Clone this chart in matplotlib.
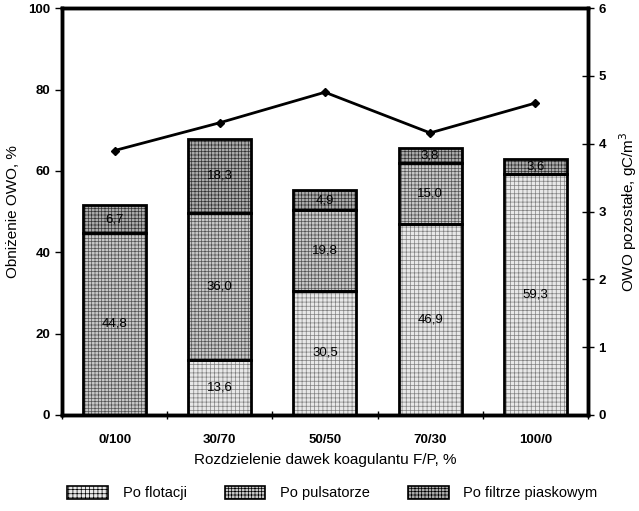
import numpy as np
import matplotlib
matplotlib.use('Agg')
import matplotlib.pyplot as plt
from matplotlib.patches import Patch

plt.rcParams['font.family'] = ['Liberation Sans', 'DejaVu Sans']
plt.rcParams['hatch.linewidth'] = 0.5

# dane
kategorie = ['0/100', '30/70', '50/50', '70/30', '100/0']
flotacja = [0.0, 13.6, 30.5, 46.9, 59.3]
pulsator = [44.8, 36.0, 19.8, 15.0, 0.0]
filtr = [6.7, 18.3, 4.9, 3.8, 3.6]
owo_pozostale = [3.9, 4.31, 4.76, 4.16, 4.6]

seria = [
    ('Po flotacji', flotacja, '#e8e8e8', '#808080', '++++'),
    ('Po pulsatorze', pulsator, '#c8c8c8', '#555555', '+++++'),
    ('Po filtrze piaskowym', filtr, '#ababab', '#333333', '+++++'),
]

fig = plt.figure(figsize=(6.39, 5.11), dpi=100)
ax = fig.add_axes([0.097, 0.188, 0.823, 0.796])
x = np.arange(len(kategorie))
szer = 0.6

dol = np.zeros(len(kategorie))
for nazwa, wart, kolor, hkolor, hatch in seria:
    wart = np.array(wart)
    ax.bar(x, wart, szer, bottom=dol, color=kolor, edgecolor=hkolor,
           hatch=hatch, linewidth=0, zorder=2)
    ax.bar(x, wart, szer, bottom=dol, fill=False, edgecolor='black',
           linewidth=2, zorder=3)
    for i in range(len(x)):
        if wart[i] > 0:
            ax.text(x[i], dol[i] + wart[i] / 2, ('%.1f' % wart[i]).replace('.', ','),
                    ha='center', va='center', fontsize=9.5, zorder=4)
    dol = dol + wart

ax.set_xlim(-0.5, 4.5)
ax.set_ylim(0, 100)
ax.set_yticks([0, 20, 40, 60, 80, 100])
ax.set_xticks(x)
ax.set_xticklabels(kategorie)
ax.set_xticks(np.arange(-0.5, 5, 1), minor=True)
ax.tick_params(axis='x', which='major', length=0, pad=14, labelsize=9.5)
ax.tick_params(axis='x', which='minor', length=6, width=1, direction='inout')
ax.tick_params(axis='y', length=5, width=1, labelsize=9.5)
for t in ax.get_yticklabels() + ax.get_xticklabels():
    t.set_fontweight('bold')
for s in ax.spines.values():
    s.set_linewidth(2.5)
ax.set_ylabel('Obniżenie OWO, %', fontsize=11, labelpad=6)
ax.set_xlabel('Rozdzielenie dawek koagulantu F/P, %', fontsize=11, labelpad=5)

ax2 = ax.twinx()
ax2.plot(x, owo_pozostale, color='black', linewidth=2, marker='D',
         markersize=4, zorder=5)
ax2.set_ylim(0, 6)
ax2.set_yticks(range(7))
ax2.tick_params(axis='y', length=8, width=1, direction='inout', labelsize=9.5)
for t in ax2.get_yticklabels():
    t.set_fontweight('bold')
for s in ax2.spines.values():
    s.set_linewidth(2.5)
ax2.set_ylabel('OWO pozostałe, gC/m$^3$', fontsize=11, labelpad=8)

uchwyty = [Patch(facecolor=k, edgecolor='black', hatch=h, linewidth=1.2)
           for _, _, k, _, h in seria]
fig.legend(uchwyty, [s[0] for s in seria], loc='lower center',
           bbox_to_anchor=(0.52, -0.005), ncol=3, frameon=False, fontsize=10.5,
           handlelength=2.8, handleheight=1.0, handletextpad=1.0,
           columnspacing=2.6)

fig.savefig('out.png', dpi=100)
